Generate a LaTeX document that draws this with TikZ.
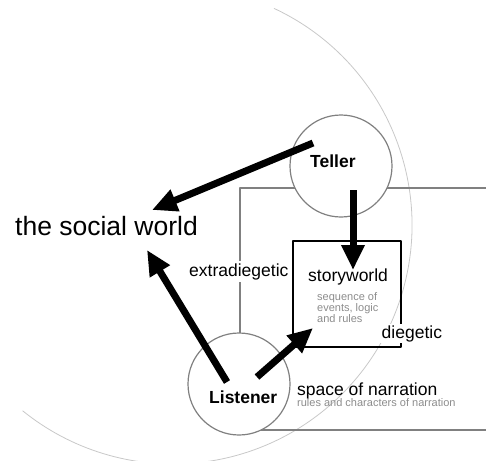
\documentclass[tikz,border=0pt]{standalone}
\usepackage{fontspec}
\setmainfont{Liberation Sans}
\usetikzlibrary{arrows.meta}
\definecolor{framegray}{RGB}{128,128,128}
\definecolor{arcgray}{RGB}{200,200,200}
\definecolor{notegray}{RGB}{140,140,140}
\begin{document}
\begin{tikzpicture}[x=1pt,y=-1pt,>={Triangle[length=25pt,width=22pt]}, line join=round,
	ring/.style={circle,draw=framegray,line width=1.2pt,fill=white,minimum size=102pt,inner sep=0pt},
	tag/.style={anchor=base west,inner sep=0pt,font=\fontsize{17.5}{20}\selectfont},
	who/.style={tag,font=\fontsize{17.5}{20}\selectfont\bfseries},
	note/.style={anchor=base west,inner sep=0pt,text=notegray,align=left,font=\fontsize{11}{11}\selectfont},
	fat/.style={->,line width=7pt}]
	\useasboundingbox (0,0) rectangle (486,460);
	% outer arc and space of narration
	\draw[arcgray,line width=0.8pt] (173,225) ++(-65:239) arc[start angle=-65,end angle=129,radius=239];
	\draw[framegray,line width=1.2pt] (486,188)--(240,188)--(240,430)--(486,430);
	\node[ring] (teller) at (341,166) {};
	\node[ring] (listener) at (239,384) {};
	\node[draw,line width=1.5pt,minimum width=108pt,minimum height=106pt,inner sep=0pt] (story) at (347,294) {};
	% texts
	\node[tag,font=\fontsize{26.5}{30}\selectfont] (social) at (15,235) {the social world};
	\node[who] (tellername) at (310,167) {Teller};
	\node[who] (listenername) at (209,403) {Listener};
	\node[tag,fill=white,inner sep=2pt] (extra) at (187,276) {extradiegetic};
	\node[tag] (storyname) at (308,281) {storyworld};
	\node[note,anchor=north west] (storynote) at (317,292) {sequence of\\events, logic\\and rules};
	\node[tag,fill=white,inner sep=1.5pt] (dieg) at (380,338) {diegetic};
	\node[tag] (narration) at (297,395) {space of narration};
	\node[note] (narrnote) at (297,406) {rules and characters of narration};
	% arrows
	\coordinate (t1) at ([shift={(-28,-23)}]teller.center);
	\coordinate (t2) at ([shift={(12,24)}]teller.center);
	\coordinate (l1) at ([shift={(-12,-2)}]listener.center);
	\coordinate (l2) at ([shift={(18,-7)}]listener.center);
	\coordinate (s1) at ([shift={(137,-25)}]social.base west);
	\coordinate (s2) at ([shift={(132,15)}]social.base west);
	\coordinate (w1) at ([shift={(6,-24)}]story.center);
	\coordinate (w2) at ([shift={(-34,34)}]story.center);
	\draw[fat] (t1)--(s1);
	\draw[fat] (t2)--(w1);
	\draw[fat] (l1)--(s2);
	\draw[fat] (l2)--(w2);
\end{tikzpicture}
\end{document}
